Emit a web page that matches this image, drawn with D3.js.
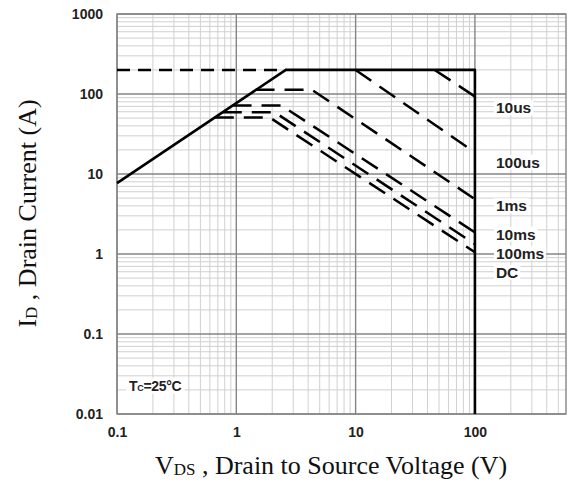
<!DOCTYPE html>
<html>
  <head>
    <title>Safe Operating Area</title>
    <style>
    body {
        margin: 0px;
        overflow: hidden;
        background: white;
    }
    .tick-label {
        font-family: "Liberation Sans", Arial, sans-serif;
        font-weight: bold;
        font-size: 14px;
        fill: #222;
    }
    .axis-title {
        font-family: "Liberation Serif", "Times New Roman", serif;
        font-size: 26px;
        fill: #111;
    }
    .curve-label {
        font-family: "Liberation Sans", Arial, sans-serif;
        font-weight: bold;
        font-size: 15.5px;
        fill: #222;
    }
    </style>
    <script src="https://d3js.org/d3.v7.min.js"></script>
  </head>
  <body>
    <svg width="571" height="486"></svg>
    <script>
        // axis ticks
        const xTickValues = [0.1, 1, 10, 100];
        const yTickValues = [0.01, 0.1, 1, 10, 100, 1000];

        // Rds(on) limit + current limit + Vds limit (solid)
        const limitV = [0.1, 2.6, 100, 100];
        const limitI = [7.7, 200, 200, 0.01];

        // package current limit (dashed, left part)
        const pkgV = [0.1, 2.6];
        const pkgI = [200, 200];

        // pulse curves
        const curveNames = ['10us', '100us', '1ms', '10ms', '100ms', 'DC'];
        const v10us = [46, 100];
        const i10us = [200, 93];
        const v100us = [10, 100];
        const i100us = [200, 18.6];
        const v1ms = [1.45, 4.3, 100];
        const i1ms = [113, 113, 4.85];
        const v10ms = [0.93, 2.4, 100];
        const i10ms = [71.6, 71.6, 1.86];
        const v100ms = [0.77, 2.1, 100];
        const i100ms = [59, 59, 1.33];
        const vDC = [0.66, 1.9, 100];
        const iDC = [51, 51, 1.05];

        // label positions (current value beside x=100 edge)
        const labelI = [67, 14, 4.0, 1.77, 1.02, 0.59];

        const svg = d3.select('svg');
        const margin = { top: 14, right: 5, bottom: 72, left: 117 };
        const width = +svg.attr('width');
        const height = +svg.attr('height');
        const innerWidth = width - margin.left - margin.right;
        const innerHeight = height - margin.top - margin.bottom;

        const xScale = d3.scaleLog()
            .domain([0.1, 580])
            .range([0, innerWidth]);

        const yScale = d3.scaleLog()
            .domain([0.01, 1000])
            .range([innerHeight, 0]);

        const g = svg.append('g')
            .attr('transform', `translate(${margin.left},${margin.top})`);

        const isMajor = v => Math.abs(Math.log10(v) - Math.round(Math.log10(v))) < 1e-9;

        // minor grid
        const xGridVals = xScale.ticks();
        const yGridVals = yScale.ticks();

        g.append('g').selectAll('line').data(xGridVals.filter(v => !isMajor(v)))
            .enter().append('line')
            .attr('x1', d => xScale(d)).attr('x2', d => xScale(d))
            .attr('y1', 0).attr('y2', innerHeight)
            .attr('stroke', '#d0d0d0').attr('stroke-width', 1);

        g.append('g').selectAll('line').data(yGridVals.filter(v => !isMajor(v)))
            .enter().append('line')
            .attr('y1', d => yScale(d)).attr('y2', d => yScale(d))
            .attr('x1', 0).attr('x2', innerWidth)
            .attr('stroke', '#d0d0d0').attr('stroke-width', 1);

        // major grid
        g.append('g').selectAll('line').data(xGridVals.filter(isMajor))
            .enter().append('line')
            .attr('x1', d => xScale(d)).attr('x2', d => xScale(d))
            .attr('y1', 0).attr('y2', innerHeight)
            .attr('stroke', '#858585').attr('stroke-width', 1.4);

        g.append('g').selectAll('line').data(yGridVals.filter(isMajor))
            .enter().append('line')
            .attr('y1', d => yScale(d)).attr('y2', d => yScale(d))
            .attr('x1', 0).attr('x2', innerWidth)
            .attr('stroke', '#858585').attr('stroke-width', 1.4);

        g.append('rect')
            .attr('width', innerWidth).attr('height', innerHeight)
            .attr('fill', 'none').attr('stroke', '#858585').attr('stroke-width', 1.4);

        // tick labels
        const xAxis = d3.axisBottom(xScale)
            .tickValues(xTickValues)
            .tickFormat(d => d3.format('~g')(d))
            .tickSize(0)
            .tickPadding(13);
        const xAxisG = g.append('g').call(xAxis)
            .attr('transform', `translate(0,${innerHeight})`);
        xAxisG.select('.domain').remove();
        xAxisG.selectAll('text').attr('class', 'tick-label').attr('fill', null);

        const yAxis = d3.axisLeft(yScale)
            .tickValues(yTickValues)
            .tickFormat(d => d3.format('~g')(d))
            .tickSize(0)
            .tickPadding(14);
        const yAxisG = g.append('g').call(yAxis);
        yAxisG.select('.domain').remove();
        yAxisG.selectAll('text').attr('class', 'tick-label').attr('fill', null);
        xAxisG.attr('font-family', null).attr('font-size', null);
        yAxisG.attr('font-family', null).attr('font-size', null);

        const line = d3.line()
            .x(d => xScale(d[0]))
            .y(d => yScale(d[1]));

        const zip = (vs, is) => vs.map((v, i) => [v, is[i]]);

        // dashed package limit
        g.append('path')
            .datum(zip(pkgV, pkgI))
            .attr('d', line)
            .attr('fill', 'none')
            .attr('stroke', 'black')
            .attr('stroke-width', 2.5)
            .attr('stroke-dasharray', '13,8');

        // pulse curves
        const curves = [
            zip(v10us, i10us), zip(v100us, i100us), zip(v1ms, i1ms),
            zip(v10ms, i10ms), zip(v100ms, i100ms), zip(vDC, iDC)
        ];
        g.append('g').selectAll('path').data(curves)
            .enter().append('path')
            .attr('d', line)
            .attr('fill', 'none')
            .attr('stroke', 'black')
            .attr('stroke-width', 2.5)
            .attr('stroke-dasharray', '19,10');

        // solid boundary
        g.append('path')
            .datum(zip(limitV, limitI))
            .attr('d', line)
            .attr('fill', 'none')
            .attr('stroke', 'black')
            .attr('stroke-width', 2.6)
            .attr('stroke-linejoin', 'round');

        // curve labels with white boxes
        const labelG = g.append('g');
        curveNames.forEach((name, i) => {
            const lg = labelG.append('g');
            const t = lg.append('text')
                .attr('class', 'curve-label')
                .attr('x', xScale(100) + 21)
                .attr('y', yScale(labelI[i]))
                .attr('dy', '0.35em')
                .text(name);
            const bb = t.node().getBBox();
            lg.insert('rect', 'text')
                .attr('x', bb.x - 2).attr('y', bb.y + 1)
                .attr('width', bb.width + 4).attr('height', bb.height - 2)
                .attr('fill', 'white');
        });

        // Tc label
        const tcG = g.append('g');
        const tc = tcG.append('text')
            .attr('class', 'curve-label')
            .attr('x', 12)
            .attr('y', yScale(0.0225))
            .attr('dy', '0.35em')
            .style('font-size', '14px')
            .style('letter-spacing', '-0.3px');
        tc.append('tspan').text('T');
        tc.append('tspan').text('C').style('font-size', '9px');
        tc.append('tspan').text('=25°C');
        const tbb = tc.node().getBBox();
        tcG.insert('rect', 'text')
            .attr('x', tbb.x - 3).attr('y', tbb.y)
            .attr('width', tbb.width + 6).attr('height', tbb.height)
            .attr('fill', 'white');

        // axis titles
        const xt = svg.append('text')
            .attr('class', 'axis-title')
            .attr('x', 331)
            .attr('y', 474)
            .attr('text-anchor', 'middle');
        xt.append('tspan').text('V');
        xt.append('tspan').text('DS').style('font-size', '17px').attr('dy', 1);
        xt.append('tspan').text(' , Drain to Source Voltage (V)').attr('dy', -1);

        const yt = svg.append('text')
            .attr('class', 'axis-title')
            .attr('transform', `translate(36,${margin.top + innerHeight / 2 - 0.5}) rotate(-90)`)
            .attr('text-anchor', 'middle');
        yt.append('tspan').text('I');
        yt.append('tspan').text('D').style('font-size', '17px').attr('dy', 1);
        yt.append('tspan').text(' , Drain Current (A)').attr('dy', -1);
    </script>
  </body>
</html>
